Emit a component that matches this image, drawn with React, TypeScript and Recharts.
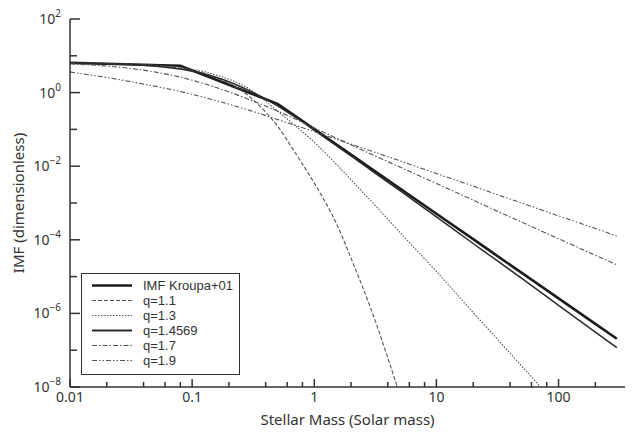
import React from 'react';
import { LineChart, Line, XAxis, YAxis, Legend, Label } from 'recharts';

// Stellar mass grid (solar masses)
const masses = [0.01, 0.02, 0.04, 0.08, 0.15, 0.3, 0.5, 0.7, 1, 1.5, 2, 3, 5, 10, 20, 30, 50, 100, 200, 300];

// IMF values
const kroupa = [6.46, 6.07, 5.71, 5.37, 2.37, 0.964, 0.495, 0.231, 0.102, 0.0401, 0.0207, 0.00815, 0.00251, 5.1e-4, 1.04e-4, 4.08e-5, 1.26e-5, 2.56e-6, 5.2e-7, 2.05e-7];
const q11 = [6.31, 6.17, 5.62, 4.57, 2.75, 0.741, 0.123, 0.0229, 0.00347, 3.0e-4, 3.16e-5, 1.0e-6, 6.3e-9, null, null, null, null, null, null, null];
const q13 = [6.31, 6.17, 5.75, 4.79, 3.16, 1.2, 0.316, 0.126, 0.0447, 0.0117, 0.00427, 0.00102, 1.62e-4, 1.38e-5, 1.05e-6, 2.4e-7, 3.7e-8, 2.8e-9, null, null];
const q14569 = [6.31, 6.03, 5.5, 4.37, 2.75, 1.1, 0.437, 0.214, 0.0955, 0.0372, 0.0191, 0.00724, 0.00219, 4.17e-4, 7.94e-5, 3.02e-5, 8.9e-6, 1.66e-6, 3.09e-7, 1.17e-7];
const q17 = [6.03, 5.25, 4.07, 2.63, 1.45, 0.631, 0.316, 0.191, 0.11, 0.0589, 0.038, 0.0204, 0.00955, 0.00339, 0.0012, 6.46e-4, 3.02e-4, 1.07e-4, 3.8e-5, 2.09e-5];
const q19 = [3.63, 2.57, 1.7, 1.07, 0.631, 0.324, 0.186, 0.129, 0.0871, 0.055, 0.0398, 0.0251, 0.0141, 0.00631, 0.00288, 0.00178, 0.001, 4.47e-4, 2.04e-4, 1.26e-4];

const seriesNames = ['IMF Kroupa+01', 'q=1.1', 'q=1.3', 'q=1.4569', 'q=1.7', 'q=1.9'];
const seriesKeys = ['kroupa', 'q11', 'q13', 'q14569', 'q17', 'q19'];

// Axis ticks
const xTicks = [0.01, 0.02, 0.04, 0.06, 0.08, 0.1, 0.2, 0.4, 0.6, 0.8, 1, 2, 4, 6, 8, 10, 20, 40, 60, 80, 100, 200];
const xMajorTicks = [0.01, 0.1, 1, 10, 100];
const xMajorLabels = ['0.01', '0.1', '1', '10', '100'];
const yTicks = [1e-8, 1e-7, 1e-6, 1e-5, 1e-4, 1e-3, 1e-2, 1e-1, 1, 10, 100];
const yLabelTicks = [1e-8, 1e-6, 1e-4, 1e-2, 1, 100];
const yLabelExponents = ['\u22128', '\u22126', '\u22124', '\u22122', '0', '2'];

const data = masses.map((m, i) => ({
  m,
  kroupa: kroupa[i],
  q11: q11[i],
  q13: q13[i],
  q14569: q14569[i],
  q17: q17[i],
  q19: q19[i],
}));

const FONT = "'Noto Sans', sans-serif";
const LEGEND_FONT = "'Liberation Sans', sans-serif";
const AXIS = '#333';
const TEXT = '#333';

const styles: Record<string, { stroke: string; width: number; dash?: string; legendWidth: number }> = {
  kroupa: { stroke: '#1c1c1c', width: 2.6, legendWidth: 2.6 },
  q11: { stroke: '#555', width: 1.1, dash: '4 2', legendWidth: 1.1 },
  q13: { stroke: '#555', width: 1.1, dash: '1.5 1.5', legendWidth: 1.1 },
  q14569: { stroke: '#2a2a2a', width: 1.5, legendWidth: 2.2 },
  q17: { stroke: '#555', width: 1.1, dash: '5 2 1.5 2', legendWidth: 1.1 },
  q19: { stroke: '#555', width: 1.1, dash: '5 2 1.5 2 1.5 2', legendWidth: 1.1 },
};

function findIdx(list: number[], v: number) {
  return list.findIndex((t) => Math.abs(t - v) / t < 1e-6);
}

const BottomTick = (props: any) => {
  const { x, y, payload } = props;
  const mi = findIdx(xMajorTicks, payload.value);
  const len = mi >= 0 ? 8 : 5;
  return (
    <g>
      <line x1={x} y1={y} x2={x} y2={y - len} stroke={AXIS} strokeWidth={1.5} />
      {mi >= 0 && (
        <text x={x} y={y + 15} textAnchor="middle" fontSize={14} fontFamily={FONT} fill={TEXT}>
          {xMajorLabels[mi]}
        </text>
      )}
    </g>
  );
};

const TopTick = (props: any) => {
  const { x, y, payload } = props;
  const mi = findIdx(xMajorTicks, payload.value);
  const len = mi >= 0 ? 8 : 5;
  return <line x1={x} y1={y} x2={x} y2={y + len} stroke={AXIS} strokeWidth={1.5} />;
};

const LeftTick = (props: any) => {
  const { x, y, payload } = props;
  const li = findIdx(yLabelTicks, payload.value);
  const len = li >= 0 ? 10 : 7;
  return (
    <g>
      <line x1={x} y1={y} x2={x + len} y2={y} stroke={AXIS} strokeWidth={1.5} />
      {li >= 0 && (
        <text x={x - 9} y={y + 5} textAnchor="end" fontSize={14} fontFamily={FONT} fill={TEXT}>
          10
          <tspan dy={-7} fontSize={10}>
            {yLabelExponents[li]}
          </tspan>
        </text>
      )}
    </g>
  );
};

const RightTick = (props: any) => {
  const { x, y, payload } = props;
  const li = findIdx(yLabelTicks, payload.value);
  const len = li >= 0 ? 9 : 5;
  return <line x1={x} y1={y} x2={x - len} y2={y} stroke={AXIS} strokeWidth={1.5} />;
};

const renderYLabel = (props: any) => {
  const vb = props.viewBox || {};
  const cx = 18;
  const cy = (vb.y ?? 19) + (vb.height ?? 368) / 2;
  return (
    <text
      x={cx}
      y={cy}
      transform={`rotate(-90, ${cx}, ${cy})`}
      textAnchor="middle"
      dominantBaseline="central"
      fontSize={15}
      fontFamily={FONT}
      fill={TEXT}
    >
      IMF (dimensionless)
    </text>
  );
};

const renderXLabel = (props: any) => {
  const vb = props.viewBox || {};
  const cx = (vb.x ?? 70) + (vb.width ?? 555) / 2;
  return (
    <text x={cx} y={425} textAnchor="middle" fontSize={15} fontFamily={FONT} fill={TEXT}>
      Stellar Mass (Solar mass)
    </text>
  );
};

const renderLegend = () => (
  <div
    style={{
      width: 159,
      height: 102,
      boxSizing: 'border-box',
      border: `1.5px solid ${AXIS}`,
      background: '#fff',
      paddingTop: 4,
    }}
  >
    {seriesKeys.map((k, i) => {
      const s = styles[k];
      return (
        <div key={k} style={{ display: 'flex', alignItems: 'center', height: 15 }}>
          <svg width={61} height={15} style={{ display: 'block' }}>
            <line x1={10} y1={7.5} x2={50} y2={7.5} stroke={s.stroke} strokeWidth={s.legendWidth} strokeDasharray={s.dash} />
          </svg>
          <span style={{ fontFamily: LEGEND_FONT, fontSize: 13, color: TEXT, lineHeight: '15px', whiteSpace: 'nowrap' }}>
            {seriesNames[i]}
          </span>
        </div>
      );
    })}
  </div>
);

export default function App() {
  return (
    <div style={{ position: 'absolute', left: 0, top: 0, width: 634, height: 435, background: '#fff' }}>
      <LineChart width={634} height={435} data={data} margin={{ top: 19, right: 9, bottom: 0, left: 0 }}>
        <XAxis
          xAxisId="bottom"
          dataKey="m"
          type="number"
          scale="log"
          domain={[0.01, 350]}
          allowDataOverflow
          ticks={xTicks}
          interval={0}
          tickSize={0}
          tickMargin={0}
          tickLine={false}
          tick={BottomTick}
          height={48}
          axisLine={{ stroke: AXIS, strokeWidth: 1.5 }}
        >
          <Label content={renderXLabel} />
        </XAxis>
        <XAxis
          xAxisId="top"
          orientation="top"
          dataKey="m"
          type="number"
          scale="log"
          domain={[0.01, 350]}
          allowDataOverflow
          ticks={xTicks}
          interval={0}
          tickSize={0}
          tickMargin={0}
          tickLine={false}
          tick={TopTick}
          height={0}
          axisLine={{ stroke: AXIS, strokeWidth: 1.5 }}
        />
        <YAxis
          yAxisId="left"
          type="number"
          scale="log"
          domain={[1e-8, 100]}
          allowDataOverflow
          ticks={yTicks}
          interval={0}
          tickSize={0}
          tickMargin={0}
          tickLine={false}
          tick={LeftTick}
          width={70}
          axisLine={{ stroke: AXIS, strokeWidth: 1.5 }}
        >
          <Label content={renderYLabel} />
        </YAxis>
        <YAxis
          yAxisId="right"
          orientation="right"
          type="number"
          scale="log"
          domain={[1e-8, 100]}
          allowDataOverflow
          ticks={yTicks}
          interval={0}
          tickSize={0}
          tickMargin={0}
          tickLine={false}
          tick={RightTick}
          width={0}
          axisLine={{ stroke: AXIS, strokeWidth: 1.5 }}
        />
        {seriesKeys.map((k, i) => {
          const s = styles[k];
          return (
            <Line
              key={k}
              xAxisId="bottom"
              yAxisId="left"
              dataKey={k}
              name={seriesNames[i]}
              type={k === 'kroupa' ? 'linear' : 'monotone'}
              stroke={s.stroke}
              strokeWidth={s.width}
              strokeDasharray={s.dash}
              dot={false}
              activeDot={false}
              isAnimationActive={false}
            />
          );
        })}
        <Legend
          layout="vertical"
          align="center"
          verticalAlign="middle"
          content={renderLegend}
          wrapperStyle={{ position: 'absolute', left: 81, top: 273, width: 159, height: 102 }}
        />
      </LineChart>
    </div>
  );
}
